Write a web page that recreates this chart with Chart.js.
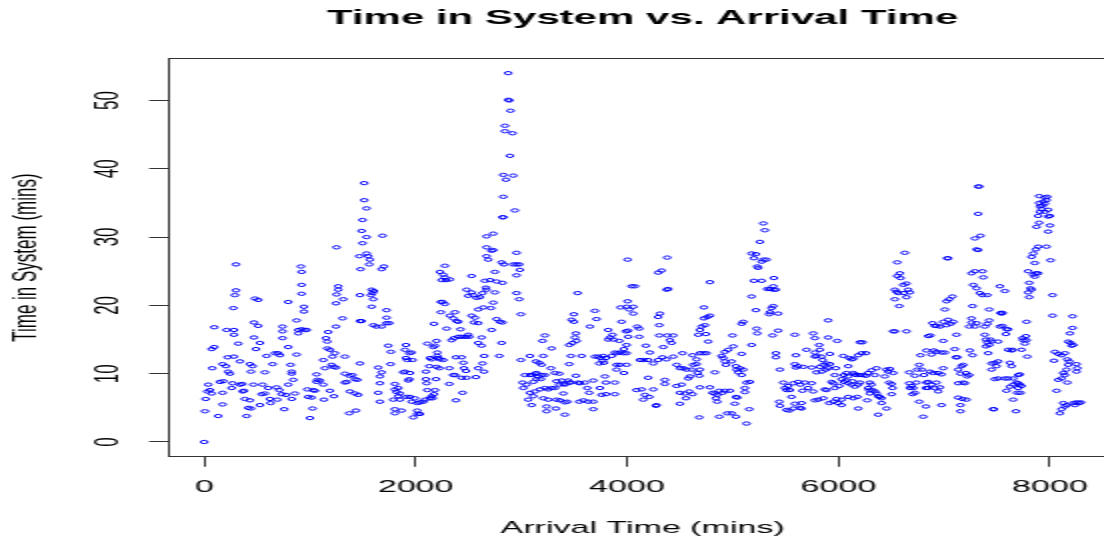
<!DOCTYPE html>
<html>
<head>
<meta charset="utf-8">
<title>Time in System vs. Arrival Time</title>
<script src="https://cdn.jsdelivr.net/npm/chart.js@4.4.1/dist/chart.umd.min.js"></script>
<style>
  html, body { margin: 0; padding: 0; overflow: hidden; background: #fff; }
  /* the original is an R plot stretched sideways: draw it narrow, then stretch */
  #wrap { width: 565px; height: 539px; transform: scaleX(2); transform-origin: 0 0; }
</style>
</head>
<body>
<div id="wrap"><canvas id="chart" width="565" height="539"></canvas></div>
<script>
// arrival time (mins) of each customer
const arrivalTime = [
  // 0 - 1300
  0,7,133,13,38,54,70,29,76,70,
  95,95,174,174,148,174,205,221,212,180,
  227,243,259,281,281,275,290,300,300,322,
  281,268,338,360,338,376,363,385,401,417,
  432,442,432,442,458,464,470,470,480,511,
  511,527,489,543,527,574,590,552,574,606,
  621,628,647,669,685,700,716,710,691,741,
  741,741,732,757,773,795,795,795,817,827,
  827,842,827,858,874,874,890,890,915,921,
  921,921,943,943,921,953,969,975,984,1000,
  1016,1025,1032,1047,1063,1063,1069,1095,1126,1132,
  1189,1227,1126,1142,1164,1164,1189,1214,1236,1205,
  1221,1246,1151,1173,1246,1246,1252,1268,1268,1252,
  // 1300 - 2700
  1315,1309,1331,1331,1347,1372,1403,1426,1448,1331,
  1378,1426,1457,1372,1435,1473,1473,1489,1473,1479,
  1467,1498,1489,1498,1536,1514,1514,1536,1536,1552,
  1567,1561,1583,1605,1593,1577,1599,1583,1599,1630,
  1678,1687,1678,1700,1725,1725,1725,1750,1741,1766,
  1763,1646,1678,1662,1662,1646,1662,1804,1804,1820,
  1836,1851,1836,1788,1804,1804,1867,1851,1883,1899,
  1946,1908,1899,1908,1940,1962,1921,1971,1940,1930,
  1915,1946,1993,1962,2015,1977,2015,2041,2015,2041,
  2088,2072,2135,2151,2110,2104,2097,2097,2129,2135,
  2151,2183,2192,2198,2224,2205,2205,2214,2230,2261,
  2183,2198,2110,2173,2167,2239,2255,2277,2239,2293,
  2324,2372,2356,2387,2403,2340,2362,2403,2425,2435,
  2476,2498,2507,2529,2561,2551,2592,2640,2592,2624,
  2649,2624,2592,2529,2498,2545,2482,2577,2608,2633,
  2671,2665,2655,2230,2277,2261,2287,2246,2324,2277,
  2529,2671,2671,2671,2687,2435,2451,2457,2476,2435,
  2482,2570,2592,2633,2646,2381,2318,2356,2372,2318,
  2444,2381,2173,2161,
  // 2700 - 4100
  2876,2876,2886,2898,2845,2845,2917,2892,2829,2923,
  2854,2829,2829,2822,2939,2734,2734,2718,2955,2813,
  2835,2923,2955,2980,2986,2955,2750,2703,2766,2822,
  2750,2955,2980,2734,2712,2996,2766,2797,2822,2718,
  2813,2791,2996,3081,3034,3050,3012,3018,3081,3106,
  3128,3144,3160,3144,3113,3191,3223,3185,3191,3169,
  3138,3207,3201,3223,3286,3280,3318,3359,3333,3381,
  3397,3359,3318,3286,3255,3223,3176,3128,3081,3065,
  3097,3113,3207,3255,3239,3239,3327,3333,3365,3412,
  3434,3412,3397,3412,3444,3453,3466,3516,3453,3469,
  3453,3485,3523,3507,3516,3497,3475,3497,3532,3554,
  3570,3538,3601,3624,3642,3680,3548,3586,3633,3680,
  3680,3649,3696,3712,3696,3728,3750,3775,3800,3737,
  3781,3769,3743,3800,3791,3759,3822,3838,3822,3863,
  3870,3854,3885,3907,3933,3964,3996,3926,3996,3970,
  3948,3989,4011,4011,3996,4021,4059,4059,3939,4005,
  4043,4074,4005,3901,3933,3901,3996,3970,3885,3800,
  3885,4090,
  // 4100 - 5500
  4380,4295,4327,4390,4374,4784,4096,4115,4115,4311,
  4295,4305,4305,4380,4437,4405,4421,4342,4178,4216,
  4122,4153,4200,4248,4295,4336,4374,4437,4525,4620,
  4658,4689,4721,4752,4626,4658,4689,4667,4469,4500,
  4532,4563,4610,4579,4595,4683,4831,4200,4358,4358,
  4137,4248,4169,4210,4153,4273,4279,4469,4516,4500,
  4547,4588,4557,4620,4689,4500,4683,4784,4809,4831,
  4853,4841,4853,4872,4904,4926,4973,4872,4948,4989,
  5030,5020,5030,5043,5131,5156,5115,5115,5131,5162,
  5052,5036,5068,5099,5084,5030,4926,4935,4989,4910,
  4894,4926,4957,5005,5084,4998,5084,5099,5178,4768,
  4746,4689,4674,4705,4737,4727,4759,4784,4727,5219,
  5232,5226,5178,5200,5273,5241,5232,5320,5289,5257,
  5304,5289,5178,5200,5219,5273,5326,5352,5383,5389,
  5383,5408,5367,5352,5345,5383,5430,5430,5377,5408,
  5408,5446,5478,5494,5440,5446,5509,5509,
  // 5500 - 6900
  5525,5541,5556,5572,5534,5572,5635,5651,5651,5588,
  5597,5588,5597,5588,5619,5667,5619,5641,5683,5660,
  5714,5746,5761,5698,5761,5777,5777,5793,5777,5818,
  5824,5840,5850,5856,5824,5840,5793,5746,5809,5777,
  5856,5887,5872,5903,5903,5919,5887,5919,5903,5881,
  5913,5966,5935,5951,5966,5988,5976,5951,5982,5998,
  6030,6030,6007,6030,6052,6045,6052,6077,6093,6071,
  6093,6102,6093,6124,6140,6140,6156,6171,6134,6124,
  6156,6093,6140,6178,6187,6187,6203,6228,6219,6260,
  6203,6234,6260,6282,6203,6187,6313,6345,6361,6297,
  6313,6282,6291,6323,6297,6345,6361,6376,6392,6408,
  6272,6408,6376,6455,6439,6455,6471,6487,6518,6503,
  6480,6512,6503,6518,6534,6644,6534,6550,6566,6534,
  6575,6556,6581,6556,6628,6588,6613,6644,6660,6619,
  6644,6676,6670,6670,6676,6692,6707,6739,6723,6723,
  6701,6764,6827,6802,6745,6764,6787,6808,6833,6849,
  6849,6880,6827,6865,6896,6777,6833,6880,6903,6849,
  6871,6890,6912,
  // 6900 - end
  6928,6960,6991,7023,7038,7061,7086,7007,7023,7048,
  7079,7038,7029,6928,6975,7007,6991,7117,7101,7111,
  7124,6944,6991,6975,6928,6912,6960,6944,6975,7133,
  7165,7180,7155,7206,7218,7237,7133,7180,7196,7133,
  7174,7212,7155,7155,7243,7269,7259,7237,7269,7259,
  7307,7291,7275,7307,7338,7363,7408,7426,7385,7408,
  7426,7259,7291,7363,7370,7307,7322,7291,7344,7322,
  7322,7332,7385,7395,7408,7439,7448,7426,7395,7511,
  7417,7480,7448,7511,7448,7496,7480,7511,7527,7553,
  7590,7606,7584,7543,7534,7553,7527,7575,7464,7470,
  7606,7638,7647,7732,7622,7638,7606,7575,7653,7701,
  7716,7685,7701,7716,7732,7653,7622,7590,7701,7723,
  7691,7653,7679,7780,7773,7748,7780,7764,7786,7742,
  7805,7795,7827,7817,7805,7843,7868,7858,7890,7795,
  7858,7827,7843,7868,7890,7969,8007,7874,7899,7984,
  8001,7984,8001,7890,7906,7921,7906,7899,7931,7953,
  7937,7969,7953,7899,7975,7984,7953,8026,8026,8048,
  8080,8111,8143,8039,8165,8184,8215,8215,8190,8174,
  8196,8221,8206,8253,8259,8253,8174,8158,8127,8143,
  8111,8080,8165,8064,8127,8143,8111,8095,8158,8237,
  8253,8278,8294,8221
];

// time in system (mins), same order as arrivalTime
const timeInSystem = [
  0,4.5,3.8,6.3,8.4,7.6,7.1,7.4,10.8,13.6,
  13.9,16.8,5.5,7.2,8.8,11.4,11.1,12.4,16.4,8.9,
  10.3,10.0,7.9,16.4,15.7,19.6,21.5,22.2,26.0,14.4,
  12.5,8.6,11.8,8.5,8.4,7.5,7.4,6.3,3.8,5.0,
  6.1,4.9,11.4,10.3,11.1,8.4,15.3,17.5,21.0,20.8,
  17.0,14.5,13.6,7.0,5.4,10.2,12.6,8.4,7.1,7.9,
  6.3,5.7,11.4,13.0,8.0,13.0,12.7,7.6,6.2,15.2,
  16.2,16.9,7.0,4.8,6.9,20.5,13.9,8.4,11.3,10.3,
  10.0,9.1,6.3,7.1,12.8,17.8,16.4,15.9,25.7,24.9,
  23.0,21.7,19.8,19.1,16.5,16.4,16.4,7.7,6.6,3.5,
  6.5,4.9,7.6,7.5,8.8,9.9,9.1,9.0,8.4,6.2,
  7.5,6.7,12.0,10.8,13.7,14.7,13.5,12.5,13.0,11.3,
  11.0,10.9,15.2,16.1,16.9,20.3,21.6,22.3,22.8,28.5,

  20.9,18.1,12.5,10.0,8.8,9.7,9.8,9.2,9.1,8.7,
  7.4,7.1,6.9,4.2,4.6,11.5,17.7,17.7,21.5,25.3,
  27.2,29.1,30.9,32.5,34.2,35.4,37.9,30.0,27.6,27.2,
  26.7,26.0,22.3,22.1,21.8,21.5,20.9,19.8,17.1,16.9,
  16.9,30.2,25.3,25.7,19.3,18.2,17.4,17.4,14.1,13.2,
  11.4,10.9,10.2,9.6,8.6,7.2,5.9,8.5,7.7,7.3,
  7.9,7.1,6.7,6.2,4.8,4.2,4.6,6.2,10.2,10.3,
  10.1,12.3,13.5,14.2,13.0,13.1,12.0,12.0,9.2,9.0,
  6.6,6.6,6.4,5.9,5.7,3.6,4.6,4.1,4.1,5.8,
  6.2,5.9,6.4,6.7,7.6,8.6,9.2,10.3,11.1,12.3,
  12.1,7.6,9.2,11.0,10.8,12.6,13.1,12.3,12.1,12.0,
  14.1,14.8,14.4,17.3,13.9,19.0,20.5,20.2,20.5,16.6,
  18.5,19.0,18.1,17.7,17.6,14.9,15.2,15.4,16.5,15.4,
  15.4,15.7,15.4,18.5,18.2,17.5,17.4,19.7,14.5,14.1,
  12.6,15.3,19.4,21.9,21.4,21.5,22.3,21.1,21.2,21.8,
  22.3,22.6,23.6,24.9,25.8,24.5,23.7,23.7,23.8,24.1,
  24.3,30.1,28.5,27.2,26.7,12.4,11.6,10.8,10.4,9.4,
  9.4,9.5,10.8,11.5,10.3,12.4,10.8,9.8,9.8,8.5,
  7.2,6.1,7.0,6.4,

  54.0,50.1,50.0,48.5,46.3,45.5,45.2,41.9,39.1,39.0,
  38.4,35.9,32.9,32.9,33.9,30.5,28.1,28.0,27.7,26.3,
  26.0,26.0,26.0,26.0,25.2,24.4,24.9,23.7,23.5,23.3,
  21.9,21.8,20.9,20.4,19.6,18.7,18.0,17.6,17.5,16.4,
  14.5,12.6,12.0,12.6,9.8,8.4,8.7,7.9,9.8,9.8,
  10.0,10.1,9.6,9.2,8.8,9.8,9.8,9.2,11.3,11.6,
  11.8,12.6,14.8,15.6,13.7,10.8,10.1,10.0,8.9,9.0,
  8.5,8.4,7.9,7.9,7.7,7.9,7.7,7.4,7.2,6.2,
  5.4,6.7,6.4,6.2,5.2,4.5,4.9,6.2,6.1,5.8,
  5.9,4.0,7.1,8.4,9.0,8.7,8.7,9.7,11.4,12.6,
  14.2,14.5,14.8,15.3,15.9,17.6,17.9,18.7,21.8,8.6,
  12.6,8.7,8.7,7.9,7.2,9.0,5.9,6.1,5.9,5.9,
  4.8,16.9,19.2,18.0,12.5,12.5,12.3,12.6,12.3,11.5,
  11.6,11.9,7.9,8.7,9.6,6.9,16.4,15.3,15.0,15.7,
  15.0,12.6,13.1,13.0,13.1,13.0,13.0,14.8,14.2,13.6,
  17.6,16.2,16.3,15.4,19.8,19.4,19.8,18.8,19.7,20.6,
  22.8,22.8,26.7,11.3,11.3,10.6,11.3,10.1,8.7,7.0,
  7.0,7.6,

  27.0,24.8,25.1,22.4,22.3,23.4,16.9,16.6,15.4,18.8,
  18.3,17.1,15.6,15.6,15.6,14.9,14.5,13.9,14.1,13.1,
  12.0,12.0,12.0,11.5,12.0,12.4,12.1,12.5,13.0,12.7,
  12.1,13.0,13.0,13.0,11.3,11.4,10.6,10.1,11.3,10.8,
  10.8,10.6,10.6,9.3,9.6,9.7,10.2,9.4,9.1,8.5,
  7.7,7.7,6.9,6.6,6.2,5.3,5.4,8.2,8.4,7.2,
  7.1,7.4,6.4,7.0,8.0,5.6,3.6,8.0,7.2,7.1,
  6.9,6.4,5.9,7.5,7.2,7.5,7.5,3.7,4.2,4.2,
  3.7,5.6,6.6,6.5,2.7,4.8,7.3,7.9,8.7,8.8,
  10.2,10.6,10.8,10.6,9.8,11.1,11.8,11.3,11.8,12.3,
  12.6,13.2,13.5,14.0,12.9,15.6,17.3,17.6,14.2,14.7,
  15.8,16.4,15.7,16.9,17.1,18.1,18.3,18.5,19.7,19.3,
  15.9,16.6,21.3,23.6,23.6,25.5,25.7,26.7,26.7,29.3,
  31.0,32.0,27.6,26.9,27.5,26.4,22.4,22.4,22.8,24.0,
  22.3,22.3,19.6,19.0,18.7,19.9,18.8,16.3,15.6,13.0,
  12.4,10.6,8.7,7.9,5.9,5.3,4.7,7.6,

  8.2,7.6,6.6,8.6,4.6,4.9,5.0,4.9,5.7,5.6,
  10.9,11.4,12.7,15.7,11.1,11.0,8.8,8.4,8.7,7.5,
  7.9,8.6,7.4,13.5,15.9,15.2,13.1,12.6,12.5,14.2,
  13.5,12.5,12.0,11.3,11.0,10.3,10.2,10.9,6.2,6.1,
  6.4,7.6,7.7,17.8,15.3,12.9,11.5,11.4,10.8,10.6,
  5.7,9.8,8.8,8.6,7.9,14.8,10.8,5.9,6.3,5.7,
  5.4,6.2,8.2,9.2,8.8,12.6,9.8,10.1,9.6,9.0,
  8.6,12.3,11.1,12.1,12.2,10.1,9.9,9.8,8.9,8.4,
  8.1,6.6,6.4,6.6,4.9,12.7,14.6,14.6,13.0,13.0,
  9.8,9.8,9.7,10.1,8.7,8.4,10.5,9.8,10.8,8.7,
  8.4,7.9,7.6,7.6,7.1,7.4,7.1,6.7,6.6,6.4,
  6.1,5.7,4.0,4.9,9.6,10.6,10.3,10.7,10.1,8.5,
  8.7,7.9,7.0,16.2,16.2,16.2,22.3,22.0,21.8,20.9,
  19.9,24.3,24.7,26.3,27.7,24.0,23.0,23.2,22.3,21.8,
  21.2,21.9,10.2,8.6,7.9,8.2,7.9,8.7,9.7,7.2,
  7.0,5.9,5.2,3.7,10.6,11.3,10.6,9.8,8.7,8.8,
  7.9,8.4,7.9,10.3,10.1,12.7,13.4,12.8,13.4,15.5,
  15.6,17.4,17.0,

  17.0,16.9,17.6,17.1,17.9,17.3,17.6,19.4,20.6,20.9,
  21.3,26.9,26.9,13.2,13.1,13.1,14.8,15.7,13.6,12.4,
  12.4,10.1,10.8,9.9,8.7,7.9,8.0,7.4,5.4,10.6,
  11.1,11.3,10.0,10.1,9.6,9.8,8.6,8.7,8.6,6.5,
  6.3,6.2,5.4,4.5,13.4,12.7,18.1,16.9,19.9,17.5,
  17.4,16.9,23.0,22.5,21.8,21.5,21.5,19.4,16.9,17.3,
  17.8,24.7,25.0,25.0,24.1,28.2,28.1,29.8,30.2,33.4,
  37.4,37.4,15.7,15.0,14.6,15.0,14.7,14.2,14.0,14.7,
  13.0,11.6,11.5,11.8,10.6,11.1,9.2,9.3,16.9,17.0,
  16.5,16.5,15.8,18.8,18.9,18.9,22.8,22.1,4.8,4.8,
  13.5,13.4,13.5,13.5,11.6,11.1,9.3,9.3,9.3,9.8,
  9.9,8.7,8.6,8.4,8.2,8.4,8.1,7.5,7.9,7.2,
  7.2,6.2,4.5,17.6,15.5,14.9,14.9,14.4,12.5,15.2,
  21.2,21.9,22.3,22.5,23.3,24.5,24.7,24.2,24.7,25.0,
  26.2,27.1,27.6,28.2,28.6,28.6,26.6,31.5,32.1,30.8,
  31.7,33.0,33.1,33.1,33.7,34.1,34.5,35.0,34.6,34.9,
  35.2,35.4,35.8,36.0,35.9,34.0,33.7,21.5,18.5,13.2,
  12.9,12.7,13.0,11.9,12.1,11.8,18.4,16.7,15.9,14.7,
  14.5,14.2,14.1,11.4,10.8,10.3,11.3,10.6,10.1,9.8,
  9.3,9.1,8.7,7.5,5.7,5.2,4.8,4.2,5.4,5.4,
  5.8,5.7,5.8,5.7
];

const xTickValues = [0, 2000, 4000, 6000, 8000];
const yTickValues = [0, 10, 20, 30, 40, 50];

const FONT = "'Liberation Sans', Arial, sans-serif";

// R pads the data range by 4% on each side
function rRange(values) {
  const lo = Math.min(...values), hi = Math.max(...values);
  const pad = (hi - lo) * 0.04;
  return [lo - pad, hi + pad];
}
const [xMin, xMax] = rRange(arrivalTime);
const [yMin, yMax] = rRange(timeInSystem);

const points = arrivalTime.map((t, i) => ({ x: t, y: timeInSystem[i] }));

// top border of the box and the rotated y tick labels (R style)
const rFrame = {
  id: 'rFrame',
  afterDraw(chart) {
    const { ctx, chartArea: a } = chart;
    const yScale = chart.scales.y;
    ctx.save();
    ctx.strokeStyle = '#333';
    ctx.lineWidth = 1;
    ctx.beginPath();
    ctx.moveTo(a.left, Math.round(a.top) + 0.5);
    ctx.lineTo(a.right, Math.round(a.top) + 0.5);
    ctx.moveTo(Math.round(a.right) - 0.5, a.top);
    ctx.lineTo(Math.round(a.right) - 0.5, a.bottom);
    ctx.stroke();

    ctx.fillStyle = '#000';
    ctx.font = '17px ' + FONT;
    ctx.textAlign = 'center';
    ctx.textBaseline = 'middle';
    yScale.ticks.forEach(t => {
      ctx.save();
      ctx.translate(54, yScale.getPixelForValue(t.value));
      ctx.rotate(-Math.PI / 2);
      ctx.fillText(String(t.value), 0, 0);
      ctx.restore();
    });
    ctx.restore();
  }
};

new Chart(document.getElementById('chart'), {
  type: 'scatter',
  data: {
    datasets: [{
      data: points,
      borderColor: '#0000ff',
      backgroundColor: 'rgba(0,0,0,0)',
      borderWidth: 1,
      pointRadius: 1.7,
      pointStyle: 'circle'
    }]
  },
  options: {
    responsive: false,
    devicePixelRatio: 1,
    animation: false,
    events: [],
    layout: { padding: { left: 0, right: 7, top: 0, bottom: 0 } },
    plugins: {
      legend: { display: false },
      tooltip: { enabled: false },
      title: {
        display: true,
        text: 'Time in System vs. Arrival Time',
        color: '#000',
        fullSize: false,
        font: { family: FONT, size: 21, weight: 'bold' },
        padding: { top: 6, bottom: 27.2 }
      }
    },
    scales: {
      x: {
        type: 'linear',
        position: 'bottom',
        min: xMin,
        max: xMax,
        afterBuildTicks: s => { s.ticks = xTickValues.map(v => ({ value: v })); },
        afterFit: s => { s.height = 82.25; },
        ticks: {
          color: '#000',
          font: { family: FONT, size: 17 },
          padding: 10,
          maxRotation: 0,
          autoSkip: false,
          callback: v => String(v)
        },
        grid: { drawOnChartArea: false, drawTicks: true, tickLength: 10, color: '#333' },
        border: { display: true, color: '#333', width: 1 },
        title: {
          display: true,
          text: 'Arrival Time (mins)',
          color: '#000',
          font: { family: FONT, size: 17 },
          padding: { top: 0, bottom: 0.8 }
        }
      },
      y: {
        type: 'linear',
        position: 'left',
        min: yMin,
        max: yMax,
        afterBuildTicks: s => { s.ticks = yTickValues.map(v => ({ value: v })); },
        afterFit: s => { s.width = 84.6; },
        ticks: { display: false },
        grid: { drawOnChartArea: false, drawTicks: true, tickLength: 10, color: '#333' },
        border: { display: true, color: '#333', width: 1 },
        title: {
          display: true,
          text: 'Time in System (mins)',
          color: '#000',
          font: { family: FONT, size: 17 },
          padding: { top: 3.55, bottom: 0 }
        }
      }
    }
  },
  plugins: [rFrame]
});
</script>
</body>
</html>
